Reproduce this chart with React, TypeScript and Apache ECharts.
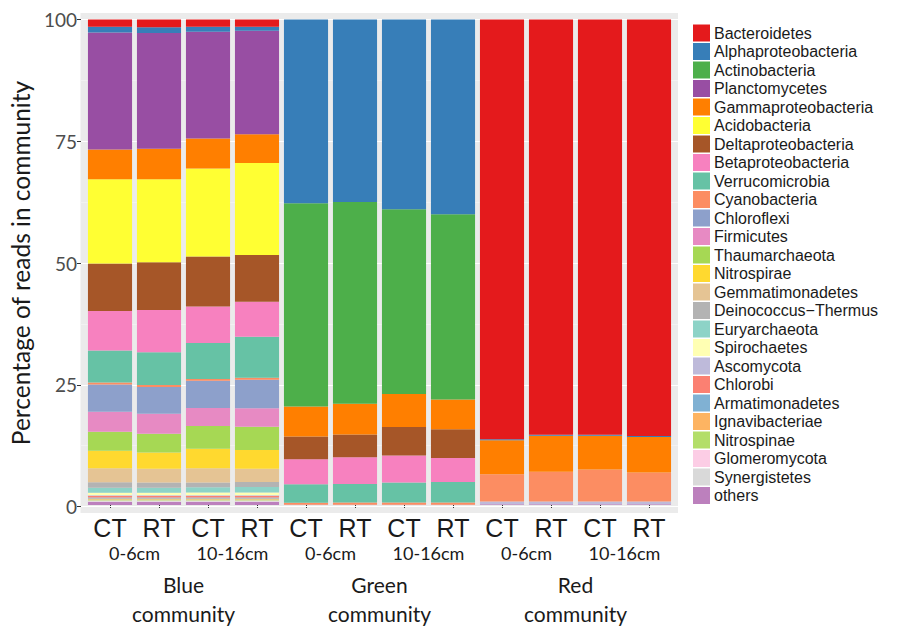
import React, { useEffect, useRef } from "react";
import * as echarts from "echarts";

// x categories (12 bars)
const sampleLabels = ["CT", "RT", "CT", "RT", "CT", "RT", "CT", "RT", "CT", "RT", "CT", "RT"];
const depthLabels = ["0-6cm", "10-16cm", "0-6cm", "10-16cm", "0-6cm", "10-16cm"];
const communityLabels = ["Blue\ncommunity", "Green\ncommunity", "Red\ncommunity"];
const yTicks = [0, 25, 50, 75, 100];

// values per taxon: Blue CT/RT 0-6, CT/RT 10-16 | Green ... | Red ...
const bacteroidetes = [1.5, 1.6, 1.5, 1.5, 0, 0, 0, 0, 86.45, 85.55, 85.55, 85.8];
const alphaproteobacteria = [1.2, 1.2, 1.0, 0.8, 37.85, 37.65, 39.15, 40.15, 0.2, 0.2, 0.2, 0.2];
const actinobacteria = [0, 0, 0, 0, 41.85, 41.55, 38.05, 38.15, 0, 0, 0, 0];
const planctomycetes = [24.1, 23.8, 22.0, 21.35, 0, 0, 0, 0, 0, 0, 0, 0];
const gammaproteobacteria = [6.1, 6.3, 6.2, 5.9, 6.2, 6.35, 6.8, 6.15, 7.0, 7.4, 6.95, 7.3];
const acidobacteria = [17.35, 17.1, 18.1, 18.95, 0, 0, 0, 0, 0, 0, 0, 0];
const deltaproteobacteria = [9.8, 9.85, 10.3, 9.65, 4.7, 4.65, 5.85, 5.9, 0, 0, 0, 0];
const betaproteobacteria = [8.15, 8.7, 7.55, 7.2, 5.15, 5.55, 5.55, 4.95, 0, 0, 0, 0];
const verrucomicrobia = [6.55, 6.75, 7.4, 8.45, 3.8, 3.8, 4.15, 4.25, 0, 0, 0, 0];
const cyanobacteria = [0.45, 0.4, 0.35, 0.4, 0.4, 0.45, 0.45, 0.45, 5.65, 6.15, 6.6, 6.0];
const chloroflexi = [5.6, 5.5, 5.6, 5.85, 0, 0, 0, 0, 0, 0, 0, 0];
const firmicutes = [4.1, 4.1, 3.75, 3.85, 0, 0, 0, 0, 0, 0, 0, 0];
const thaumarchaeota = [3.95, 3.9, 4.65, 4.75, 0, 0, 0, 0, 0, 0, 0, 0];
const nitrospirae = [3.6, 3.35, 4.05, 3.9, 0, 0, 0, 0, 0, 0, 0, 0];
const gemmatimonadetes = [2.85, 2.8, 2.9, 2.7, 0, 0, 0, 0, 0, 0, 0, 0];
const deinococcusThermus = [1.15, 1.1, 1.0, 1.05, 0, 0, 0, 0, 0, 0, 0, 0];
const euryarchaeota = [1.05, 1.05, 1.1, 1.1, 0, 0, 0, 0, 0, 0, 0, 0];
const spirochaetes = [0.5, 0.5, 0.55, 0.6, 0, 0, 0, 0, 0, 0, 0, 0];
const ascomycota = [0.15, 0.15, 0.15, 0.15, 0, 0, 0, 0, 0.55, 0.55, 0.55, 0.55];
const chlorobi = [0.3, 0.3, 0.3, 0.3, 0, 0, 0, 0, 0, 0, 0, 0];
const armatimonadetes = [0.2, 0.2, 0.2, 0.2, 0, 0, 0, 0, 0, 0, 0, 0];
const ignavibacteriae = [0.2, 0.2, 0.2, 0.2, 0, 0, 0, 0, 0, 0, 0, 0];
const nitrospinae = [0.2, 0.2, 0.2, 0.2, 0, 0, 0, 0, 0, 0, 0, 0];
const glomeromycota = [0.2, 0.2, 0.2, 0.2, 0, 0, 0, 0, 0, 0, 0, 0];
const synergistetes = [0.15, 0.15, 0.15, 0.15, 0, 0, 0, 0, 0, 0, 0, 0];
const others = [0.6, 0.6, 0.6, 0.6, 0.05, 0.05, 0.05, 0.05, 0.15, 0.15, 0.15, 0.15];

// legend order (top of stack first)
const taxa = [
  ["Bacteroidetes", bacteroidetes, "#E41A1C"],
  ["Alphaproteobacteria", alphaproteobacteria, "#377EB8"],
  ["Actinobacteria", actinobacteria, "#4DAF4A"],
  ["Planctomycetes", planctomycetes, "#984EA3"],
  ["Gammaproteobacteria", gammaproteobacteria, "#FF7F00"],
  ["Acidobacteria", acidobacteria, "#FFFF33"],
  ["Deltaproteobacteria", deltaproteobacteria, "#A65628"],
  ["Betaproteobacteria", betaproteobacteria, "#F781BF"],
  ["Verrucomicrobia", verrucomicrobia, "#66C2A5"],
  ["Cyanobacteria", cyanobacteria, "#FC8D62"],
  ["Chloroflexi", chloroflexi, "#8DA0CB"],
  ["Firmicutes", firmicutes, "#E78AC3"],
  ["Thaumarchaeota", thaumarchaeota, "#A6D854"],
  ["Nitrospirae", nitrospirae, "#FFD92F"],
  ["Gemmatimonadetes", gemmatimonadetes, "#E5C494"],
  ["Deinococcus\u2212Thermus", deinococcusThermus, "#B3B3B3"],
  ["Euryarchaeota", euryarchaeota, "#8DD3C7"],
  ["Spirochaetes", spirochaetes, "#FFFFB3"],
  ["Ascomycota", ascomycota, "#BEBADA"],
  ["Chlorobi", chlorobi, "#FB8072"],
  ["Armatimonadetes", armatimonadetes, "#80B1D3"],
  ["Ignavibacteriae", ignavibacteriae, "#FDB462"],
  ["Nitrospinae", nitrospinae, "#B3DE69"],
  ["Glomeromycota", glomeromycota, "#FCCDE5"],
  ["Synergistetes", synergistetes, "#D9D9D9"],
  ["others", others, "#BC80BD"],
] as [string, number[], string][];

export default function App() {
  const ref = useRef<HTMLDivElement>(null);
  useEffect(() => {
    document.body.style.margin = "0";
    const chart = echarts.init(ref.current!, null, { renderer: "svg" });
    const PANEL_L = 80.5, PANEL_W = 597.5;
    const BAR_L = 85.5, BAR_W = 588;
    const TOP = 19.5, H = 487;
    const series: any[] = taxa
      .slice()
      .reverse()
      .map(([name, data, color]) => ({
        type: "bar",
        name,
        stack: "total",
        xAxisIndex: 0,
        yAxisIndex: 0,
        barWidth: "90%",
        data,
        itemStyle: { color },
        z: 3,
      }));
    chart.setOption({
      animation: false,
      backgroundColor: "#ffffff",
      grid: [
        { left: BAR_L, width: BAR_W, top: TOP, height: H, containLabel: false },
        { left: PANEL_L, width: PANEL_W, top: TOP, height: H, z: 1 },
        { left: PANEL_L, width: PANEL_W, top: 13, height: 500, show: true, backgroundColor: "#EBEBEB", borderWidth: 0, z: 0 },
      ],
      legend: {
        orient: "vertical",
        left: 693,
        top: 24.5,
        padding: 0,
        itemWidth: 17,
        itemHeight: 17,
        itemGap: 1.5,
        icon: "rect",
        data: taxa.map((t) => t[0]),
        textStyle: { fontFamily: "Liberation Sans", fontSize: 16, lineHeight: 17, color: "#1A1A1A", padding: [0, 0, 0, -1] },
        selectedMode: false,
      },
      xAxis: [
        {
          type: "category",
          gridIndex: 0,
          data: sampleLabels,
          axisLine: { show: false },
          axisTick: { show: true, alignWithLabel: true, length: 3, lineStyle: { color: "#333333" } },
          axisLabel: { fontFamily: "Liberation Sans", fontSize: 25, color: "#1A1A1A", margin: 10, interval: 0 },
          splitLine: { show: false },
        },
        {
          type: "category",
          gridIndex: 0,
          position: "bottom",
          offset: 31,
          data: depthLabels,
          axisLine: { show: false },
          axisTick: { show: false },
          axisLabel: { fontFamily: "Lato", fontSize: 18, color: "#1A1A1A", margin: 8, interval: 0 },
        },
        {
          type: "category",
          gridIndex: 0,
          position: "bottom",
          offset: 57,
          data: communityLabels,
          axisLine: { show: false },
          axisTick: { show: false },
          axisLabel: { fontFamily: "Lato", fontSize: 21, lineHeight: 29, color: "#1A1A1A", margin: 8, interval: 0 },
        },
        { type: "value", gridIndex: 1, show: false, min: 0, max: 1 },
        { type: "value", gridIndex: 2, show: false, min: 0, max: 1 },
      ],
      yAxis: [
        { type: "value", gridIndex: 0, min: 0, max: 100, show: false },
        {
          type: "value",
          gridIndex: 1,
          min: yTicks[0],
          max: yTicks[yTicks.length - 1],
          interval: 25,
          z: 1,
          name: "Percentage of reads in community",
          nameLocation: "middle",
          nameGap: 44,
          nameTextStyle: { fontFamily: "Lato", fontSize: 24.5, color: "#1A1A1A" },
          axisLine: { show: false },
          axisTick: { show: true, length: 4, lineStyle: { color: "#333333" } },
          axisLabel: { fontFamily: "Lato", fontSize: 19, color: "#4D4D4D", margin: 4 },
          splitLine: { show: true, lineStyle: { color: "#FFFFFF", width: 1.1 } },
          minorTick: { show: false, splitNumber: 2 },
          minorSplitLine: { show: true, lineStyle: { color: "#F7F7F7", width: 0.6 } },
        },
        { type: "value", gridIndex: 2, show: false, min: 0, max: 1 },
      ],
      series,
    });
    return () => chart.dispose();
  }, []);
  return <div ref={ref} style={{ position: "fixed", left: 0, top: 0, width: 898, height: 628 }} />;
}
